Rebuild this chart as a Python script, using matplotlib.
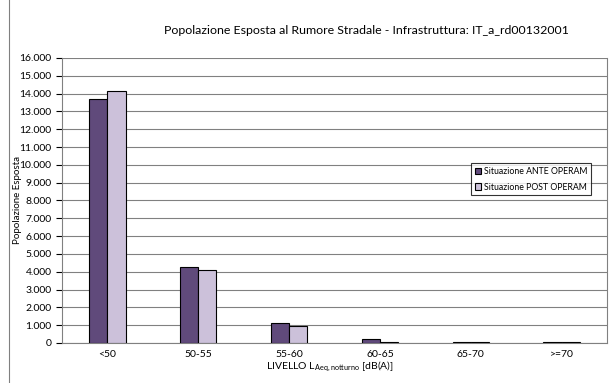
import matplotlib
matplotlib.use("Agg")
import matplotlib.pyplot as plt
from matplotlib.ticker import FuncFormatter, MultipleLocator
from matplotlib.patches import Rectangle
import numpy as np

categories = ["<50", "50-55", "55-60", "60-65", "65-70", ">=70"]
ante = [13700, 4270, 1120, 200, 40, 40]
post = [14150, 4080, 960, 60, 40, 40]
series_names = ["Situazione ANTE OPERAM", "Situazione POST OPERAM"]

plt.rcParams["font.family"] = ["Lato", "DejaVu Sans"]

fig = plt.figure(figsize=(6.1, 3.83), dpi=100)
fig.patches.append(Rectangle((9 / 610, -0.01), 1.0, 1.02, transform=fig.transFigure,
                             fill=False, edgecolor="#808080", linewidth=0.8))
ax = fig.add_axes([62 / 610, 1 - 343 / 383, (607 - 62) / 610, (343 - 58) / 383])

x = np.arange(len(categories))
w = 0.2
ax.bar(x - w / 2, ante, w, color="#604a7b", edgecolor="black", linewidth=0.8,
       label=series_names[0], zorder=3)
ax.bar(x + w / 2, post, w, color="#ccc1da", edgecolor="black", linewidth=0.8,
       label=series_names[1], zorder=3)

ax.set_xlim(-0.5, len(categories) - 0.5)
ax.set_ylim(0, 16000)
ax.yaxis.set_major_locator(MultipleLocator(1000))
ax.yaxis.set_major_formatter(FuncFormatter(lambda v, p: f"{int(v):,}".replace(",", ".")))
ax.grid(axis="y", color="#808080", linewidth=0.8, zorder=0)
ax.set_xticks(x)
ax.set_xticklabels(categories)
ax.tick_params(axis="x", length=0, labelsize=7.5, pad=5)
ax.tick_params(axis="y", length=4, labelsize=7.5, width=0.8)
ax.spines["top"].set_visible(False)
for s in ["right", "left", "bottom"]:
    ax.spines[s].set_color("#808080")

fig.text(18 / 610, 1 - 200 / 383, "Popolazione Esposta", rotation=90,
         ha="center", va="center", fontsize=7)
fig.text(330 / 610, 1 - 367 / 383, r"LIVELLO L$_{\mathregular{Aeq,notturno}}$ [dB(A)]",
         ha="center", va="center", fontsize=7.5)

fig.text(366 / 610, 1 - 31 / 383, "Popolazione Esposta al Rumore Stradale - Infrastruttura: IT_a_rd00132001",
         ha="center", va="center", fontsize=8.9)

leg = ax.legend(loc="upper left", bbox_to_anchor=((471 - 62) / 545, (343 - 163) / 285),
                fontsize=6.3, frameon=True, fancybox=False, edgecolor="black",
                handlelength=0.7, handleheight=0.7, handletextpad=0.3,
                borderpad=0.45, labelspacing=0.75, borderaxespad=0)
leg.get_frame().set_linewidth(0.8)

fig.savefig("out.png", dpi=100)
